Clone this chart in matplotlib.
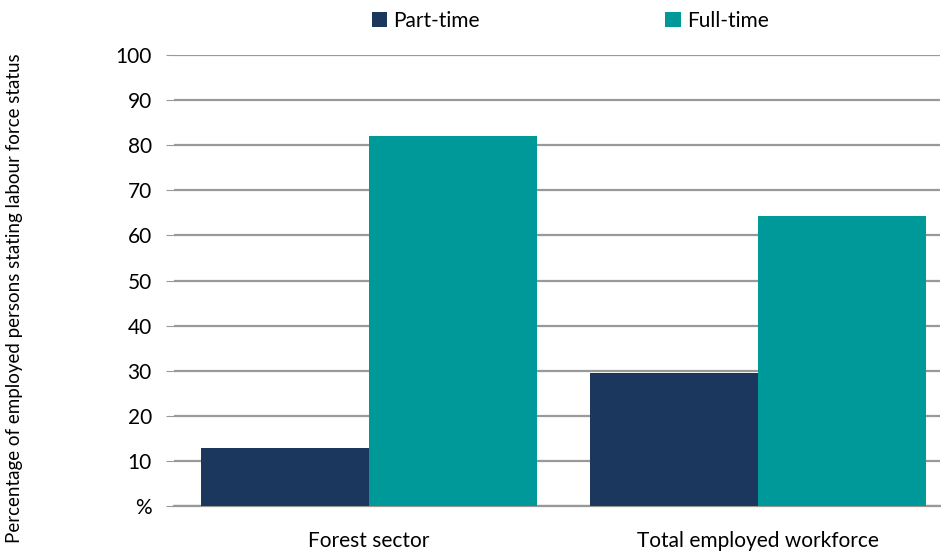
import numpy as np
import matplotlib
matplotlib.use('Agg')
import matplotlib.pyplot as plt

# Chart data
categories = ['Forest sector', 'Total employed workforce']
series_names = ['Part-time', 'Full-time']
part_time = [13.0, 29.5]
full_time = [82.0, 64.4]
y_ticks = [0, 10, 20, 30, 40, 50, 60, 70, 80, 90, 100]
y_tick_labels = ['%', '10', '20', '30', '40', '50', '60', '70', '80', '90', '100']

colors = ['#1b375e', '#009999']

plt.rcParams['font.family'] = ['Lato', 'DejaVu Sans']

fig = plt.figure(figsize=(9.41, 5.55), dpi=100)
ax = fig.add_axes([0.185, 0.088, 0.814, 0.813])

x = np.arange(len(categories))
w = 0.432
b1 = ax.bar(x - w / 2, part_time, width=w, color=colors[0], label=series_names[0], zorder=3)
b2 = ax.bar(x + w / 2, full_time, width=w, color=colors[1], label=series_names[1], zorder=3)

ax.set_xlim(-0.501, 1.468)
ax.set_ylim(0, 100)
ax.set_yticks(y_ticks)
ax.set_yticklabels(y_tick_labels, fontsize=15)
ax.set_xticks(x)
ax.set_xticklabels(categories, fontsize=15)
ax.tick_params(axis='y', length=6, color='#999999', pad=10)
ax.tick_params(axis='x', length=0, pad=18)
ax.yaxis.grid(True, color='#999999', linewidth=1.6, zorder=0)
ax.set_axisbelow(True)
for s in ['top', 'right', 'left']:
    ax.spines[s].set_visible(False)
ax.spines['bottom'].set_color('#999999')
ax.spines['bottom'].set_linewidth(1.6)

ax.set_ylabel('Percentage of employed persons stating labour force status', fontsize=13.5)
ax.yaxis.set_label_coords(-0.197, 0.46)

fig.legend(handles=[b1, b2], loc='center', bbox_to_anchor=(0.606, 0.963), ncol=2,
           frameon=False, fontsize=15, handlelength=0.75, handleheight=0.75,
           handletextpad=0.3, columnspacing=8.9)

fig.savefig('out.png', dpi=100)
